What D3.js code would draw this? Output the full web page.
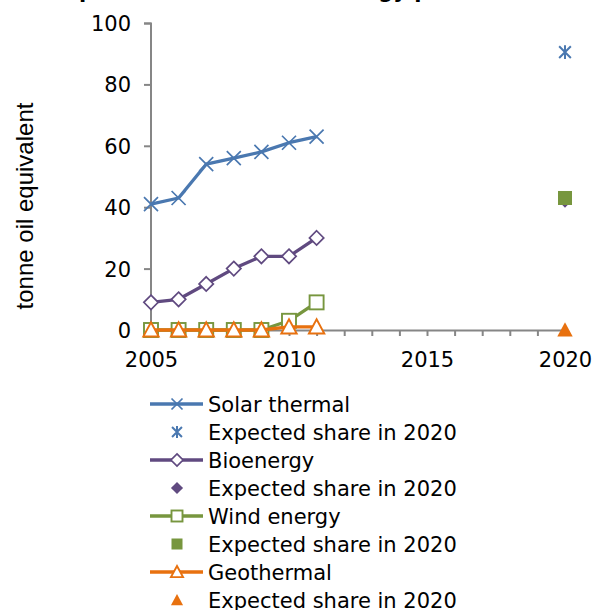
<!DOCTYPE html>
<html><head><meta charset="utf-8">
<script src="https://cdn.jsdelivr.net/npm/d3@7"></script>
<style>body{margin:0;background:#fff}svg{display:block}</style>
</head><body>
<svg id="c" width="593" height="610"></svg>
<script>
const years = [2005, 2006, 2007, 2008, 2009, 2010, 2011];
const targetYear = 2020;
const solarThermal = [41, 43, 54, 56, 58, 61, 63];
const bioenergy = [9, 10, 15, 20, 24, 24, 30];
const windEnergy = [0, 0, 0, 0, 0, 3, 9];
const geothermal = [0, 0, 0, 0, 0, 1, 1];
const expected2020 = [90.5, 42, 43, 0];
const seriesNames = ["Solar thermal", "Bioenergy", "Wind energy", "Geothermal"];
const expectedLabel = "Expected share in 2020";
const yTicks = [0, 20, 40, 60, 80, 100];
const xTickLabels = [2005, 2010, 2015, 2020];
const yTitle = "tonne oil equivalent";
const title = "Development of renewable energy production for heating";

const colors = ["#4A78B0", "#604A80", "#77963E", "#E8710F"];
const markers = ["cross", "diamond", "square", "triangle"];
const seriesVals = [solarThermal, bioenergy, windEnergy, geothermal];

const svg = d3.select("#c");
const x = d3.scaleLinear().domain([2005, 2020]).range([151, 565]);
const y = d3.scaleLinear().domain([0, 100]).range([330, 23]);

// clipped title
svg.append("text").attr("x", 340).attr("y", -2).attr("text-anchor", "middle")
  .attr("font-family", "DejaVu Sans").attr("font-weight", "bold").attr("font-size", 21)
  .text(title);

// axes
const axisColor = "#868686";
const yAxis = svg.append("g").attr("transform", "translate(151,0)")
  .call(d3.axisLeft(y).tickValues(yTicks).tickSize(7).tickPadding(13));
const xAxis = svg.append("g").attr("transform", "translate(0,330)")
  .call(d3.axisBottom(x).tickValues(d3.range(2005, 2021)).tickSize(6).tickPadding(16)
    .tickFormat(d => xTickLabels.includes(d) ? d : ""));
[yAxis, xAxis].forEach(a => {
  a.select(".domain").attr("stroke", axisColor).attr("stroke-width", 2);
  a.selectAll(".tick line").attr("stroke", axisColor).attr("stroke-width", 2);
  a.selectAll("text").attr("font-family", "DejaVu Sans").attr("font-size", 21).attr("fill", "#000");
});
yAxis.selectAll("text").attr("dy", "0.36em");
yAxis.select(".domain").attr("d", "M-7,23.5H0V330");

svg.append("text").attr("transform", "translate(33,206) rotate(-90)")
  .attr("text-anchor", "middle").attr("font-family", "Liberation Sans").attr("font-size", 24)
  .text(yTitle);

function drawMarker(g, type, cx, cy, color, filled, s) {
  if (type === "cross") {
    if (filled) {
      const r = s * 0.45;
      g.append("path").attr("d", `M${cx-r},${cy-r}L${cx+r},${cy+r}M${cx+r},${cy-r}L${cx-r},${cy+r}M${cx},${cy-r-1}L${cx},${cy+r+1}`)
        .attr("stroke", color).attr("stroke-width", 2).attr("fill", "none");
    } else {
      const r = s * 0.5;
      g.append("path").attr("d", `M${cx-r},${cy-r}L${cx+r},${cy+r}M${cx+r},${cy-r}L${cx-r},${cy+r}`)
        .attr("stroke", color).attr("stroke-width", 1.7).attr("fill", "none");
    }
  } else if (type === "diamond") {
    const r = s * 0.55;
    g.append("path").attr("d", `M${cx},${cy-r}L${cx+r},${cy}L${cx},${cy+r}L${cx-r},${cy}Z`)
      .attr("stroke", color).attr("stroke-width", filled ? 0 : 1.7).attr("fill", filled ? color : "#fff");
  } else if (type === "square") {
    const r = s * 0.5;
    g.append("rect").attr("x", cx - r).attr("y", cy - r).attr("width", 2*r).attr("height", 2*r)
      .attr("stroke", color).attr("stroke-width", filled ? 0 : 1.9).attr("fill", filled ? color : "#fff");
  } else {
    const r = s * 0.55;
    g.append("path").attr("d", `M${cx},${cy-r}L${cx+r},${cy+r*0.85}L${cx-r},${cy+r*0.85}Z`)
      .attr("stroke", color).attr("stroke-width", filled ? 0 : 1.9).attr("fill", filled ? color : "#fff");
  }
}

const line = d3.line().x((d, i) => x(years[i])).y(d => y(d));
const plot = svg.append("g");
const sizesLine = [14, 13, 14, 14];
seriesVals.forEach((vals, si) => {
  const g = plot.append("g");
  g.append("path").attr("d", line(vals)).attr("fill", "none")
    .attr("stroke", colors[si]).attr("stroke-width", 3.3).attr("stroke-linejoin", "round");
  vals.forEach((v, i) => drawMarker(g, markers[si], x(years[i]), y(v), colors[si], false, sizesLine[si]));
});
const sizesExp = [13, 12, 14, 14];
expected2020.forEach((v, si) => {
  drawMarker(plot, markers[si], x(targetYear), y(v), colors[si], true, sizesExp[si]);
});

// legend
const leg = svg.append("g");
const rowY0 = 404, rowStep = 28;
seriesNames.forEach((name, si) => {
  const y1 = rowY0 + rowStep * (2 * si);
  const y2 = y1 + rowStep;
  leg.append("line").attr("x1", 150).attr("x2", 203).attr("y1", y1).attr("y2", y1)
    .attr("stroke", colors[si]).attr("stroke-width", 3.3);
  drawMarker(leg, markers[si], 177, y1, colors[si], false, 11);
  leg.append("text").attr("x", 208).attr("y", y1).attr("dy", "0.36em")
    .attr("font-family", "DejaVu Sans").attr("font-size", 21).text(name);
  drawMarker(leg, markers[si], 177, y2, colors[si], true, 11);
  leg.append("text").attr("x", 208).attr("y", y2).attr("dy", "0.36em")
    .attr("font-family", "DejaVu Sans").attr("font-size", 21).text(expectedLabel);
});
</script>
</body></html>
